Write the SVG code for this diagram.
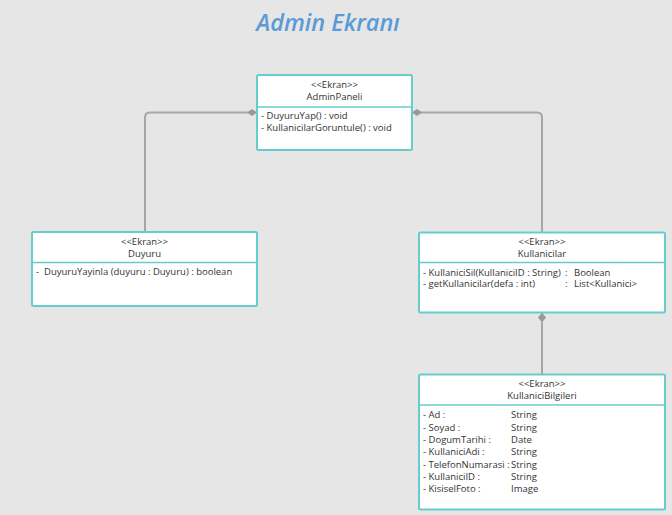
<svg xmlns="http://www.w3.org/2000/svg" width="672" height="515" viewBox="0 0 672 515">
<style>
.box{fill:#ffffff;stroke:#66CCCC;stroke-width:2}
.div{stroke:#66CCCC;stroke-width:1.5}
.t{font-family:"Open Sans","Noto Sans",sans-serif;font-size:9.5px;fill:#333333}
.c{text-anchor:middle}
.conn{fill:none;stroke:#A6A6A6;stroke-width:2}
.dia{fill:#999999}
</style>
<rect width="672" height="515" fill="#E6E6E6"/>
<text x="328" y="30.5" text-anchor="middle" font-family="'Open Sans','Noto Sans',sans-serif" font-size="23.5" font-style="italic" font-weight="600" fill="#5B9BD5">Admin Ekranı</text>
<g id="connectors">
<path class="conn" d="M250,112.5 H150 Q145,112.5 145,117.5 V231"/>
<polygon class="dia" points="257,112.5 252,109 247,112.5 252,116"/>
<path class="conn" d="M418,112.5 H537 Q542,112.5 542,117.5 V232"/>
<polygon class="dia" points="412,112.5 417,109 422,112.5 417,116"/>
<path class="conn" d="M542,322 V374"/>
<polygon class="dia" points="542,312.5 546,317.5 542,322.5 538,317.5"/>
</g>
<g id="AdminPaneli">
<rect class="box" x="257" y="75" width="155" height="75" rx="1.5"/>
<line class="div" x1="257" y1="107" x2="412" y2="107"/>
<text class="t c" x="334.5" y="88">&lt;&lt;Ekran&gt;&gt;</text>
<text class="t c" x="334.5" y="100">AdminPaneli</text>
<text class="t" x="261" y="119">- DuyuruYap() : void</text>
<text class="t" x="261" y="131">- KullanicilarGoruntule() : void</text>
</g>
<g id="Duyuru">
<rect class="box" x="32" y="232" width="225" height="74" rx="1.5"/>
<line class="div" x1="32" y1="262.5" x2="257" y2="262.5"/>
<text class="t c" x="144.5" y="244.5">&lt;&lt;Ekran&gt;&gt;</text>
<text class="t c" x="144.5" y="256.5">Duyuru</text>
<text class="t" x="36" y="275" xml:space="preserve">-  DuyuruYayinla (duyuru : Duyuru) : boolean</text>
</g>
<g id="Kullanicilar">
<rect class="box" x="419" y="232.5" width="246" height="80" rx="1.5"/>
<line class="div" x1="419" y1="262.5" x2="665" y2="262.5"/>
<text class="t c" x="542" y="244.5">&lt;&lt;Ekran&gt;&gt;</text>
<text class="t c" x="542" y="256.5">Kullanicilar</text>
<text class="t" x="423" y="275.5">- KullaniciSil(KullaniciID : String)</text>
<text class="t" x="565" y="275.5">:</text>
<text class="t" x="574" y="275.5">Boolean</text>
<text class="t" x="423" y="287">- getKullanicilar(defa : int)</text>
<text class="t" x="565" y="287">:</text>
<text class="t" x="574" y="287">List&lt;Kullanici&gt;</text>
</g>
<g id="KullaniciBilgileri">
<rect class="box" x="419" y="374.5" width="246" height="135" rx="1.5"/>
<line class="div" x1="419" y1="405" x2="665" y2="405"/>
<text class="t c" x="542" y="387">&lt;&lt;Ekran&gt;&gt;</text>
<text class="t c" x="542" y="398.5">KullaniciBilgileri</text>
<text class="t" x="423" y="418">- Ad :</text><text class="t" x="511" y="418">String</text>
<text class="t" x="423" y="430.5">- Soyad :</text><text class="t" x="511" y="430.5">String</text>
<text class="t" x="423" y="443">- DogumTarihi :</text><text class="t" x="511" y="443">Date</text>
<text class="t" x="423" y="455">- KullaniciAdi :</text><text class="t" x="511" y="455">String</text>
<text class="t" x="423" y="467.5">- TelefonNumarasi :</text><text class="t" x="511" y="467.5">String</text>
<text class="t" x="423" y="480">- KullaniciID :</text><text class="t" x="511" y="480">String</text>
<text class="t" x="423" y="492">- KisiselFoto :</text><text class="t" x="511" y="492">Image</text>
</g>
</svg>
